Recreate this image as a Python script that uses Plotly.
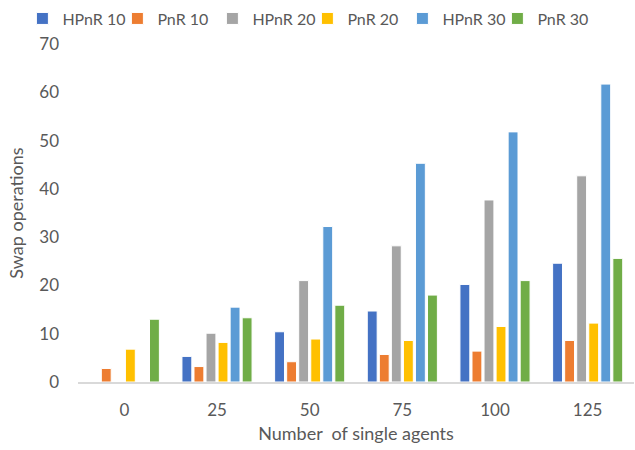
import plotly.graph_objects as go

categories = ["0", "25", "50", "75", "100", "125"]
series_names = ["HPnR 10", "PnR 10", "HPnR 20", "PnR 20", "HPnR 30", "PnR 30"]
hpnr10 = [0, 5.3, 10.4, 14.7, 20.2, 24.6]
pnr10 = [2.8, 3.2, 4.2, 5.7, 6.4, 8.6]
hpnr20 = [0, 10.1, 21.0, 28.2, 37.7, 42.7]
pnr20 = [6.8, 8.2, 8.9, 8.6, 11.5, 12.2]
hpnr30 = [0, 15.5, 32.2, 45.3, 51.8, 61.7]
pnr30 = [13.0, 13.3, 15.9, 18.0, 21.0, 25.6]
colors = ["#4472C4", "#ED7D31", "#A5A5A5", "#FFC000", "#5B9BD5", "#70AD47"]

fig = go.Figure()
for name, vals, col in zip(series_names, [hpnr10, pnr10, hpnr20, pnr20, hpnr30, pnr30], colors):
    fig.add_trace(go.Bar(x=categories, y=vals, name=name,
                         marker=dict(color=col, line=dict(color="white", width=1))))

font_fam = "Lato, Carlito, 'Open Sans', sans-serif"
fig.update_layout(
    width=635, height=450,
    margin=dict(l=78, r=1, t=44, b=68),
    paper_bgcolor="white", plot_bgcolor="white",
    barmode="group", bargap=0.22, bargroupgap=0.18,
    font=dict(family=font_fam, size=15, color="#595959"),
    legend=dict(orientation="h", x=-0.1, xanchor="left", y=1.025, yanchor="bottom",
                font=dict(size=16, color="#595959"), traceorder="normal",
                itemwidth=30, entrywidth=50, entrywidthmode="pixels",
                tracegroupgap=0, bgcolor="rgba(0,0,0,0)"),
    showlegend=True,
)
fig.update_xaxes(type="category", showgrid=False, showline=True, linecolor="#D9D9D9", linewidth=1.5,
                 ticks="", ticklabelstandoff=12, tickfont=dict(size=17, color="#595959"),
                 title=dict(text="Number  of single agents", font=dict(size=18, color="#595959"), standoff=8))
fig.update_yaxes(range=[0, 70], dtick=10, showgrid=False, zeroline=False, showline=False,
                 ticks="", ticklabelstandoff=18, tickfont=dict(size=17, color="#595959"),
                 title=dict(text="Swap operations", font=dict(size=18, color="#595959"), standoff=10))

fig.write_html("out.html")
